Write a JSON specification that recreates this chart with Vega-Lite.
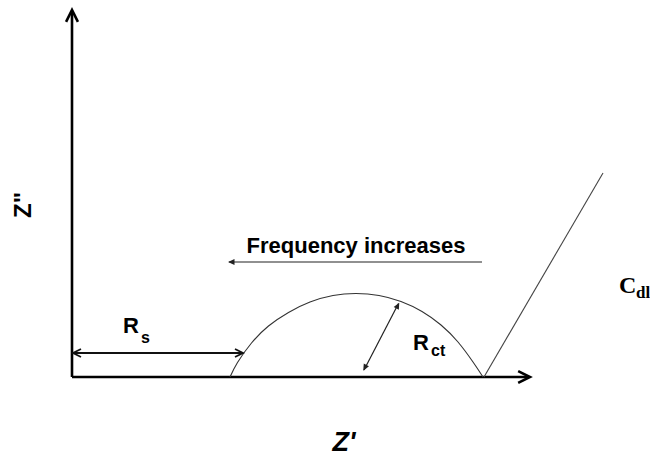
{
  "$schema": "https://vega.github.io/schema/vega-lite/v6.json",
  "width": 650,
  "height": 456,
  "autosize": "none",
  "padding": 0,
  "background": "white",
  "config": {"view": {"stroke": null}},
  "datasets": {
    "axes": [
      {"x": 0, "y": 0, "x2": 0, "y2": 365},
      {"x": 0, "y": 0, "x2": 456, "y2": 0}
    ],
    "rs": [{"x": 2, "y": 24, "x2": 170, "y2": 24}],
    "thin": [
      {"x": 292, "y": 7, "x2": 326.5, "y2": 73.5},
      {"x": 157, "y": 115, "x2": 410, "y2": 115}
    ],
    "cdl": [{"x": 412, "y": 0, "x2": 531, "y2": 204}],
    "arc": [
      {"x": 158, "y": 0},
      {"x": 165.5, "y": 14.5},
      {"x": 179.5, "y": 34},
      {"x": 196.5, "y": 51},
      {"x": 216.5, "y": 64.6},
      {"x": 238, "y": 75},
      {"x": 261, "y": 81.5},
      {"x": 284, "y": 83.5},
      {"x": 307, "y": 81.5},
      {"x": 329, "y": 75.5},
      {"x": 350, "y": 65.5},
      {"x": 369, "y": 52},
      {"x": 386, "y": 35},
      {"x": 401, "y": 15},
      {"x": 411, "y": 0}
    ],
    "headsAxes": [
      {"x": 0, "y": 367, "ang": 270},
      {"x": 458, "y": 0, "ang": 0}
    ],
    "headsRs": [
      {"x": 1, "y": 24, "ang": 180},
      {"x": 171, "y": 24, "ang": 0}
    ],
    "headsThin": [
      {"x": 327.3, "y": 74.3, "ang": 297.9},
      {"x": 291.3, "y": 6.3, "ang": 117.9},
      {"x": 156, "y": 115, "ang": 180}
    ],
    "freq": [{"x": 284, "y": 124, "t": "Frequency increases"}],
    "rMain": [
      {"x": 51, "y": 44, "t": "R"},
      {"x": 341, "y": 27, "t": "R"}
    ],
    "rSub": [
      {"x": 69, "y": 34, "t": "s"},
      {"x": 359, "y": 21, "t": "ct"}
    ],
    "cMain": [{"x": 547, "y": 84, "t": "C"}],
    "cSub": [{"x": 564, "y": 79, "t": "dl"}],
    "zY": [{"x": -48, "y": 172, "t": "Z\""}],
    "zX": [{"x": 272, "y": -66, "t": "Z'"}]
  },
  "encoding": {
    "x": {"field": "x", "type": "quantitative", "scale": {"domain": [-72, 578], "nice": false, "zero": false}, "axis": null},
    "y": {"field": "y", "type": "quantitative", "scale": {"domain": [-79, 377], "nice": false, "zero": false}, "axis": null}
  },
  "layer": [
    {
      "data": {"name": "axes"},
      "mark": {"type": "rule", "color": "black", "strokeWidth": 2.6},
      "encoding": {"x2": {"field": "x2"}, "y2": {"field": "y2"}}
    },
    {
      "data": {"name": "rs"},
      "mark": {"type": "rule", "color": "#111", "strokeWidth": 1.8},
      "encoding": {"x2": {"field": "x2"}, "y2": {"field": "y2"}}
    },
    {
      "data": {"name": "thin"},
      "mark": {"type": "rule", "color": "#222", "strokeWidth": 1.2},
      "encoding": {"x2": {"field": "x2"}, "y2": {"field": "y2"}}
    },
    {
      "data": {"name": "cdl"},
      "mark": {"type": "rule", "color": "#444", "strokeWidth": 1.1},
      "encoding": {"x2": {"field": "x2"}, "y2": {"field": "y2"}}
    },
    {
      "data": {"name": "arc"},
      "mark": {"type": "line", "interpolate": "natural", "color": "#333", "strokeWidth": 1.1},
      "encoding": {}
    },
    {
      "data": {"name": "headsAxes"},
      "mark": {"type": "point", "shape": "M-1,-0.5L0,0L-1,0.5", "filled": false, "size": 560, "strokeWidth": 2.6, "color": "black", "opacity": 1},
      "encoding": {"angle": {"field": "ang", "type": "quantitative", "scale": null}}
    },
    {
      "data": {"name": "headsRs"},
      "mark": {"type": "point", "shape": "M-1,-0.5L0,0L-1,0.5", "filled": false, "size": 256, "strokeWidth": 1.8, "color": "#111", "opacity": 1},
      "encoding": {"angle": {"field": "ang", "type": "quantitative", "scale": null}}
    },
    {
      "data": {"name": "headsThin"},
      "mark": {"type": "point", "shape": "M-1,-0.45L0,0L-1,0.45Z", "filled": true, "size": 170, "strokeWidth": 1, "color": "#222", "opacity": 1},
      "encoding": {"angle": {"field": "ang", "type": "quantitative", "scale": null}}
    },
    {
      "data": {"name": "freq"},
      "mark": {"type": "text", "font": "Liberation Sans", "fontWeight": "bold", "fontSize": 22, "align": "center", "baseline": "alphabetic", "color": "black"},
      "encoding": {"text": {"field": "t"}}
    },
    {
      "data": {"name": "rMain"},
      "mark": {"type": "text", "font": "Liberation Sans", "fontWeight": "bold", "fontSize": 22, "align": "left", "baseline": "alphabetic", "color": "black"},
      "encoding": {"text": {"field": "t"}}
    },
    {
      "data": {"name": "rSub"},
      "mark": {"type": "text", "font": "Liberation Sans", "fontWeight": "bold", "fontSize": 16, "align": "left", "baseline": "alphabetic", "color": "black"},
      "encoding": {"text": {"field": "t"}}
    },
    {
      "data": {"name": "cMain"},
      "mark": {"type": "text", "font": "Liberation Serif", "fontWeight": "bold", "fontSize": 24, "align": "left", "baseline": "alphabetic", "color": "black"},
      "encoding": {"text": {"field": "t"}}
    },
    {
      "data": {"name": "cSub"},
      "mark": {"type": "text", "font": "Liberation Serif", "fontWeight": "bold", "fontSize": 17, "align": "left", "baseline": "alphabetic", "color": "black"},
      "encoding": {"text": {"field": "t"}}
    },
    {
      "data": {"name": "zY"},
      "mark": {"type": "text", "font": "Liberation Sans", "fontWeight": "bold", "fontSize": 24, "angle": 270, "align": "center", "baseline": "middle", "color": "black"},
      "encoding": {"text": {"field": "t"}}
    },
    {
      "data": {"name": "zX"},
      "mark": {"type": "text", "font": "Liberation Sans", "fontWeight": "bold", "fontStyle": "italic", "fontSize": 27, "align": "center", "baseline": "middle", "color": "black"},
      "encoding": {"text": {"field": "t"}}
    }
  ]
}
